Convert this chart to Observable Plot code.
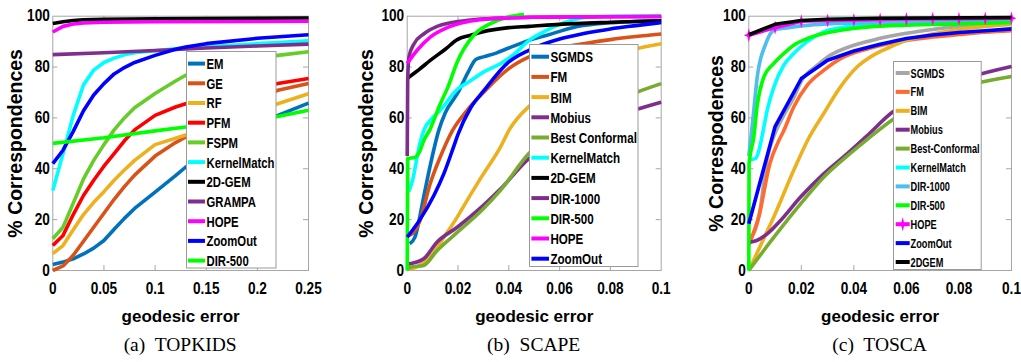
<!DOCTYPE html>
<html><head><meta charset="utf-8">
<script src="https://cdn.jsdelivr.net/npm/d3@7"></script>
<script src="https://cdn.jsdelivr.net/npm/@observablehq/plot@0.6"></script>
<style>
body{margin:0;background:#fff}
#root{position:relative;width:1021px;height:362px;overflow:hidden;background:#fff}
.cap{position:absolute;font-family:'Liberation Serif','Times New Roman',serif;font-size:19.5px;white-space:pre;transform:translateX(-50%);color:#000}
</style></head>
<body><div id="root"></div>
<script>
// ---------- data ----------
const yTicks = [0, 20, 40, 60, 80, 100];
const aTicks = [0, 0.05, 0.1, 0.15, 0.2, 0.25];
const aTickLabels = ["0", "0.05", "0.1", "0.15", "0.2", "0.25"];
const bcTicks = [0, 0.02, 0.04, 0.06, 0.08, 0.1];
const bcTickLabels = ["0", "0.02", "0.04", "0.06", "0.08", "0.1"];

// (a) TOPKIDS
const aNames = ["EM","GE","RF","PFM","FSPM","KernelMatch","2D-GEM","GRAMPA","HOPE","ZoomOut","DIR-500"];
const aEM = [[0,2.4],[0.01,3.3],[0.02,4.6],[0.03,6.5],[0.04,8.8],[0.05,11.8],[0.06,16.2],[0.07,20.5],[0.08,24.4],[0.1,30.8],[0.12,37.3],[0.13,40.7],[0.15,45.6],[0.2,56.8],[0.22,61],[0.25,65.8]];
const aGE = [[0,0],[0.01,1.8],[0.02,6],[0.03,11.5],[0.04,17],[0.05,22.5],[0.06,28],[0.07,33],[0.08,37.5],[0.1,45],[0.12,50.3],[0.13,52.5],[0.15,56.8],[0.2,66.5],[0.22,70.9],[0.25,73.5]];
const aRF = [[0,6.6],[0.01,9.8],[0.02,16],[0.03,22],[0.04,26.8],[0.05,31],[0.06,35.5],[0.07,39.5],[0.08,43.3],[0.1,49.5],[0.12,52],[0.13,53.3],[0.15,56],[0.2,62.8],[0.22,65.6],[0.25,69.5]];
const aPFM = [[0,9.8],[0.01,13.8],[0.02,22],[0.03,29.5],[0.04,35.5],[0.05,41],[0.06,46],[0.07,51],[0.08,55.3],[0.1,61],[0.12,64.3],[0.13,65.6],[0.15,67.8],[0.2,71.8],[0.22,73.5],[0.25,75.5]];
const aFSPM = [[0,12.5],[0.01,17],[0.02,26.5],[0.03,36],[0.04,43.3],[0.05,49.5],[0.06,55.3],[0.07,60],[0.08,64],[0.1,69.6],[0.12,74.5],[0.13,76.8],[0.15,79.5],[0.2,83.5],[0.22,84.6],[0.25,86]];
const aKernelMatch = [[0,31.5],[0.01,46],[0.02,61],[0.03,73],[0.04,78.8],[0.05,81.8],[0.06,83.5],[0.07,84.8],[0.08,85.6],[0.1,86.4],[0.12,87.2],[0.13,87.5],[0.15,88],[0.2,89.2],[0.22,89.6],[0.25,90.3]];
const a2DGEM = [[0,97.1],[0.01,97.8],[0.02,98.3],[0.03,98.6],[0.05,98.8],[0.1,99],[0.15,99.1],[0.2,99.2],[0.25,99.3]];
const aGRAMPA = [[0,84.9],[0.05,85.6],[0.1,86.5],[0.13,87.1],[0.15,87.5],[0.2,88.3],[0.25,89]];
const aHOPE = [[0,93.8],[0.01,96],[0.02,96.9],[0.03,97.3],[0.05,97.6],[0.1,97.8],[0.25,98]];
const aZoomOut = [[0,42],[0.01,47.3],[0.02,54.7],[0.03,62.8],[0.04,69],[0.05,73.5],[0.06,77.3],[0.07,79.8],[0.08,81.8],[0.1,84.6],[0.12,87],[0.13,87.9],[0.15,89.2],[0.2,91.3],[0.25,92.7]];
const aDIR500 = [[0,50],[0.05,52.2],[0.1,54.9],[0.13,56.4],[0.15,57.5],[0.2,59.6],[0.22,60.6],[0.25,63]];

// (b) SCAPE
const bNames = ["SGMDS","FM","BIM","Mobius","Best Conformal","KernelMatch","2D-GEM","DIR-1000","DIR-500","HOPE","ZoomOut"];
const bSGMDS = [[0.001,10.5],[0.003,13],[0.0065,29],[0.009,41],[0.0124,55],[0.015,62],[0.02,70],[0.024,78],[0.027,83],[0.03,84],[0.035,85.5],[0.04,87.5],[0.048,90.5],[0.055,92.5],[0.065,95.5],[0.075,97],[0.085,97.7],[0.1,98.2]];
const bFM = [[0.0005,13.8],[0.002,14.5],[0.005,19.5],[0.009,34],[0.013,44.6],[0.0178,55],[0.0236,63],[0.03,70],[0.04,79.4],[0.048,84],[0.06,87.5],[0.07,89.3],[0.08,90.8],[0.09,92],[0.1,93]];
const bBIM = [[0,0.5],[0.005,2],[0.01,6.5],[0.0144,13],[0.02,21.5],[0.0236,27.6],[0.03,38],[0.0367,48.5],[0.04,55],[0.05,66.5],[0.06,75.4],[0.07,81],[0.08,84.5],[0.09,87.2],[0.1,89.2]];
const bMobius = [[0,2.5],[0.0013,2.7],[0.0065,4.6],[0.0118,11.2],[0.0197,17],[0.03,25.6],[0.0367,32],[0.0479,44],[0.06,51.5],[0.07,56],[0.08,60],[0.09,63.3],[0.1,66.2]];
const bBestConformal = [[0,0.5],[0.0013,1.3],[0.0065,2],[0.0118,7.9],[0.0197,15],[0.03,24.3],[0.0367,31.5],[0.0479,46],[0.06,55.5],[0.07,61.5],[0.08,66],[0.09,70],[0.1,73.5]];
const bKernelMatch = [[0.0006,31],[0.002,35],[0.005,50],[0.0065,55],[0.01,60],[0.013,63],[0.02,71.5],[0.024,74],[0.03,78],[0.037,81.5],[0.042,85],[0.048,90.5],[0.055,94.5],[0.062,97.5],[0.07,99.5],[0.08,100],[0.1,100]];
const b2DGEM = [[0,75.4],[0.0007,76],[0.005,79.3],[0.0092,82.7],[0.015,87],[0.0197,90.8],[0.025,92.5],[0.0295,93.8],[0.04,95.5],[0.048,96],[0.06,96.8],[0.08,97.6],[0.1,98.2]];
const bDIR1000 = [[0,45],[0.0002,75],[0.0007,84],[0.0026,89],[0.0065,93],[0.0118,96],[0.017,97.4],[0.025,98.5],[0.035,99.2],[0.05,99.6],[0.1,100]];
const bDIR500 = [[0,0],[0.0002,44],[0.003,44.5],[0.005,47],[0.0065,51],[0.009,55.5],[0.013,65.5],[0.016,72],[0.0197,82],[0.0262,92.5],[0.0328,97.1],[0.039,99.5],[0.046,100.7]];
const bHOPE = [[0,81.4],[0.0039,86.6],[0.0092,91.9],[0.0157,95.5],[0.0236,97.8],[0.031,98.8],[0.04,99.3],[0.06,99.7],[0.1,99.8]];
const bZoomOut = [[0,13.1],[0.0052,20.3],[0.0105,29.5],[0.0144,38],[0.0184,49],[0.02,53.5],[0.025,64],[0.03,70.5],[0.04,82],[0.05,87.5],[0.06,91],[0.07,93.3],[0.08,95],[0.09,96.3],[0.1,97.5]];

// (c) TOSCA
const cNames = ["SGMDS","FM","BIM","Mobius","Best-Conformal","KernelMatch","DIR-1000","DIR-500","HOPE","ZoomOut","2DGEM"];
const cSGMDS = [[0,11.8],[0.004,22],[0.007,44],[0.01,54],[0.0133,61],[0.0171,68],[0.02,74.5],[0.026,80.7],[0.03,84],[0.04,88.6],[0.05,91.3],[0.06,93.3],[0.07,94.8],[0.08,96],[0.09,97],[0.1,97.8]];
const cFM = [[0,10],[0.004,22],[0.008,42],[0.0114,51],[0.0133,55],[0.0171,64.3],[0.0222,72.8],[0.0285,78.7],[0.0349,83.3],[0.0457,87.3],[0.053,89.2],[0.06,90.5],[0.07,91.8],[0.08,92.8],[0.09,93.7],[0.1,94.3]];
const cBIM = [[0,0],[0.005,11],[0.0095,21],[0.0171,39.4],[0.0228,52],[0.0285,61.7],[0.0349,72.2],[0.0412,80],[0.0476,84.8],[0.053,87.5],[0.06,90.5],[0.07,93],[0.08,94.8],[0.09,96],[0.1,96.8]];
const cMobius = [[0,11],[0.003,11.8],[0.007,14.4],[0.0121,19.7],[0.0197,28.9],[0.0285,38],[0.0374,45.9],[0.045,53],[0.055,62.5],[0.065,68],[0.075,72.8],[0.085,76.3],[0.1,80.2]];
const cBestConformal = [[0,0],[0.0095,13],[0.0197,26.2],[0.0285,36.7],[0.0374,45],[0.045,51.5],[0.055,59.5],[0.065,65.5],[0.075,70],[0.085,73.2],[0.1,76.3]];
const cKernelMatch = [[0,43.5],[0.0025,44],[0.0038,47],[0.0051,53],[0.007,63],[0.0095,72],[0.0133,80.7],[0.0171,85.3],[0.0222,90],[0.0285,93.8],[0.035,95.5],[0.045,97],[0.06,97.5],[0.1,98]];
const cDIR1000 = [[0,45],[0.0008,52],[0.0019,63],[0.0032,76],[0.0064,89],[0.0095,94.5],[0.015,95.5],[0.02,96.2],[0.03,97],[0.05,97.5],[0.1,98]];
const cDIR500 = [[0,0],[0.0001,42],[0.0005,45],[0.001,48],[0.0017,51],[0.0032,65],[0.0057,76],[0.0095,81.4],[0.0133,85.3],[0.0171,88.6],[0.0222,91.2],[0.0285,93.2],[0.0349,94.5],[0.0457,95.8],[0.06,96.5],[0.08,97],[0.1,97.5]];
const cHOPE = [[0,92.5],[0.01,95.5],[0.02,98],[0.03,98.3],[0.04,98.5],[0.05,98.7],[0.06,98.9],[0.07,99],[0.08,99],[0.09,99.1],[0.1,99.2]];
const cZoomOut = [[0,18.4],[0.01,56.6],[0.02,75.5],[0.03,82.7],[0.04,86.3],[0.05,89],[0.06,91.2],[0.07,92.6],[0.08,93.6],[0.09,94.3],[0.1,95]];
const c2DGEM = [[0,92.7],[0.01,96.8],[0.02,98.3],[0.03,98.8],[0.05,99.2],[0.1,99.5]];

// ---------- styles ----------
const FONT = "'Liberation Sans',Arial,sans-serif";
const GRAY = "#a6a6a6";
const aColors = ["#0072BD","#D95319","#EDB120","#FF0000","#66CC2A","#00FFFF","#000000","#7E2F8E","#FF00FF","#0000FF","#00FF00"];
const bColors = ["#0072BD","#D95319","#EDB120","#7E2F8E","#77AC30","#00FFFF","#000000","#7E2F8E","#00FF00","#FF00FF","#0000FF"];
const cColors = ["#A6A6A6","#FF6A2F","#EDB120","#7E2F8E","#77AC30","#00FFFF","#4DBEEE","#00FF00","#FF00FF","#0000FF","#000000"];

const star = {draw(ctx, size) {
  const r = Math.sqrt(size / Math.PI), h = 1.35 * r, w = 0.95 * r, k = 0.28 * r;
  ctx.moveTo(0, -h); ctx.lineTo(k, -k); ctx.lineTo(w, 0); ctx.lineTo(k, k);
  ctx.lineTo(0, h); ctx.lineTo(-k, k); ctx.lineTo(-w, 0); ctx.lineTo(-k, -k); ctx.closePath();
}};

// target pixel widths of reference texts (to reproduce its condensed lettering)
const W_TICK = 26.5;      // width of "0.05"
const W_XTITLE = 109;     // "geodesic error"
const W_YTITLE = 204;     // "% Correspondences"

const panels = [
  {left: 0, width: 340, mL: 52.3, mR: 32, domain: [0, 0.25], ticks: aTicks, labels: aTickLabels,
   yTitle: "% Correspondences", yDx: -37, caption: "(a)  TOPKIDS",
   names: aNames, colors: aColors, curve: "linear",
   series: [aEM, aGE, aRF, aPFM, aFSPM, aKernelMatch, a2DGEM, aGRAMPA, aHOPE, aZoomOut, aDIR500],
   leg: {x: 186, y: 50.7, w: 90.5, h: 217.5, first: 12.6, step: 19.7, sw0: 2, sw1: 19, tx: 20.5, fs: 15, widest: 68}},
  {left: 340, width: 340, mL: 66.7, mR: 19.3, domain: [0, 0.1], ticks: bcTicks, labels: bcTickLabels,
   yTitle: "% Correspondences", yDx: -40, caption: "(b)  SCAPE",
   names: bNames, colors: bColors, curve: "monotone-x",
   series: [bSGMDS, bFM, bBIM, bMobius, bBestConformal, bKernelMatch, b2DGEM, bDIR1000, bDIR500, bHOPE, bZoomOut],
   leg: {x: 529.3, y: 44, w: 109.5, h: 223, first: 12.7, step: 20.2, sw0: 2.4, sw1: 20, tx: 21.4, fs: 15, widest: 86.5}},
  {left: 680, width: 341, mL: 68.3, mR: 10, domain: [0, 0.1], ticks: bcTicks, labels: bcTickLabels,
   yTitle: "% Correspodences", yDx: -31.6, caption: "(c)  TOSCA",
   names: cNames, colors: cColors, curve: "monotone-x",
   series: [cSGMDS, cFM, cBIM, cMobius, cBestConformal, cKernelMatch, cDIR1000, cDIR500, cHOPE, cZoomOut, c2DGEM],
   leg: {x: 893.3, y: 60.7, w: 88.7, h: 209, first: 12, step: 18.9, sw0: 2.7, sw1: 16.7, tx: 17.6, fs: 12.5, widest: 69}, hopeStar: 8}
];

const root = document.getElementById("root");
const TOP = 15.7, BOTTOM = 270, H = 330;
const NS = "http://www.w3.org/2000/svg";

function squeeze(texts, s) {
  texts.forEach(t => {
    let tr = t.getAttribute("transform");
    if (!tr) {
      const x = t.getAttribute("x") || 0, y = t.getAttribute("y") || 0;
      t.removeAttribute("x"); t.removeAttribute("y");
      tr = `translate(${x},${y})`;
    }
    t.setAttribute("transform", tr + ` scale(${s},1)`);
  });
}

let fTick = null, fX = null, fY = null;

panels.forEach((p) => {
  const fw = p.width - p.mL - p.mR, fh = BOTTOM - TOP;
  const inner = (t) => t.slice(1, -1);
  const lineMarks = p.series.map((s, i) => {
    const straight = p.hopeStar !== undefined && (i === 8 || i === 9 || i === 10);
    return Plot.line(s, {x: d => d[0], y: d => d[1], stroke: p.colors[i], strokeWidth: 3.6,
      curve: straight ? "linear" : p.curve, strokeLinejoin: "round", strokeLinecap: "butt"});
  });
  if (p.hopeStar !== undefined) {
    const hs = p.series[p.hopeStar];
    lineMarks.splice(10, 0, Plot.dot(hs, {x: d => d[0], y: d => d[1], symbol: star, r: 5.2, fill: "#FF00FF", stroke: "none"}));
  }
  const svg = Plot.plot({
    width: p.width, height: H,
    marginLeft: p.mL, marginRight: p.mR, marginTop: TOP, marginBottom: H - BOTTOM,
    style: {fontFamily: FONT, background: "transparent", color: "#000"},
    x: {domain: p.domain},
    y: {domain: [0, 100]},
    marks: [
      Plot.frame({stroke: GRAY}),
      Plot.ruleX(inner(p.ticks), {x: d => d, stroke: GRAY, insetTop: fh - 5}),
      Plot.ruleX(inner(p.ticks), {x: d => d, stroke: GRAY, insetBottom: fh - 5}),
      Plot.ruleY(inner(yTicks), {y: d => d, stroke: GRAY, insetRight: fw - 5}),
      Plot.ruleY(inner(yTicks), {y: d => d, stroke: GRAY, insetLeft: fw - 5}),
      Plot.axisX(p.ticks, {tickSize: 0, tickPadding: 12, tickFormat: d => p.labels[p.ticks.indexOf(d)],
        fontSize: 16, fontWeight: "bold", label: null}),
      Plot.axisY(yTicks, {tickSize: 0, tickPadding: 3, fontSize: 16, fontWeight: "bold", label: null}),
      Plot.text(["geodesic error"], {text: d => d, frameAnchor: "bottom", textAnchor: "middle", lineAnchor: "middle",
        dy: 46, fontSize: 17, fontWeight: "bold", ariaLabel: "x-title"}),
      Plot.text([p.yTitle], {text: d => d, frameAnchor: "left", textAnchor: "middle", lineAnchor: "middle",
        rotate: -90, dx: p.yDx, fontSize: 19.5, fontWeight: "bold", ariaLabel: "y-title"}),
      ...lineMarks
    ]
  });
  svg.style.position = "absolute";
  svg.style.left = p.left + "px";
  svg.style.top = "0px";
  svg.style.overflow = "visible";
  root.appendChild(svg);

  // condense texts like the reference
  const tickTexts = [...svg.querySelectorAll('g[aria-label="x-axis tick label"] text, g[aria-label="y-axis tick label"] text')];
  if (fTick === null) {
    const ref = tickTexts.find(t => t.textContent === "0.05" || t.textContent === "0.02");
    fTick = ref ? W_TICK / ref.getComputedTextLength() : 0.86;
  }
  squeeze(tickTexts, fTick);
  const xt = [...svg.querySelectorAll('g[aria-label="x-title"] text')];
  if (fX === null && xt.length) fX = W_XTITLE / xt[0].getComputedTextLength();
  squeeze(xt, fX || 0.92);
  const yt = [...svg.querySelectorAll('g[aria-label="y-title"] text')];
  if (fY === null && yt.length) fY = W_YTITLE / yt[0].getComputedTextLength();
  squeeze(yt, fY || 1);

  // legend (SVG overlay, box + swatches + labels)
  const L = p.leg;
  const lg = document.createElementNS(NS, "svg");
  lg.setAttribute("width", L.w); lg.setAttribute("height", L.h);
  Object.assign(lg.style, {position: "absolute", left: L.x + "px", top: L.y + "px", overflow: "visible"});
  const box = document.createElementNS(NS, "rect");
  box.setAttribute("x", 0.5); box.setAttribute("y", 0.5);
  box.setAttribute("width", L.w - 1); box.setAttribute("height", L.h - 1);
  box.setAttribute("fill", "#fff"); box.setAttribute("stroke", "#9a9a9a");
  lg.appendChild(box);
  root.appendChild(lg);
  const labels = [];
  p.names.forEach((name, i) => {
    const cy = L.first + i * L.step;
    const ln = document.createElementNS(NS, "line");
    ln.setAttribute("x1", L.sw0); ln.setAttribute("x2", L.sw1);
    ln.setAttribute("y1", cy); ln.setAttribute("y2", cy);
    ln.setAttribute("stroke", p.colors[i]); ln.setAttribute("stroke-width", 4);
    lg.appendChild(ln);
    if (p.hopeStar === i) {
      const st = document.createElementNS(NS, "path");
      const pth = d3.path(); star.draw(pth, Math.PI * 5.2 * 5.2);
      st.setAttribute("d", pth.toString());
      st.setAttribute("transform", `translate(${(L.sw0 + L.sw1) / 2},${cy})`);
      st.setAttribute("fill", "#FF00FF");
      lg.appendChild(st);
    }
    const t = document.createElementNS(NS, "text");
    t.textContent = name;
    t.setAttribute("x", L.tx); t.setAttribute("y", cy);
    t.setAttribute("dy", "0.36em");
    t.setAttribute("font-family", FONT);
    t.setAttribute("font-weight", "bold");
    t.setAttribute("font-size", L.fs);
    lg.appendChild(t);
    labels.push(t);
  });
  const nat = labels.map(t => t.getComputedTextLength());
  const f = L.widest / Math.max(...nat);
  labels.forEach((t, i) => {
    t.setAttribute("textLength", (nat[i] * f).toFixed(2));
    t.setAttribute("lengthAdjust", "spacingAndGlyphs");
  });

  // caption
  const cap = document.createElement("div");
  cap.className = "cap";
  cap.textContent = p.caption;
  cap.style.left = (p.left + p.mL + fw / 2) + "px";
  cap.style.top = "334px";
  root.appendChild(cap);
});
</script>
</body></html>
